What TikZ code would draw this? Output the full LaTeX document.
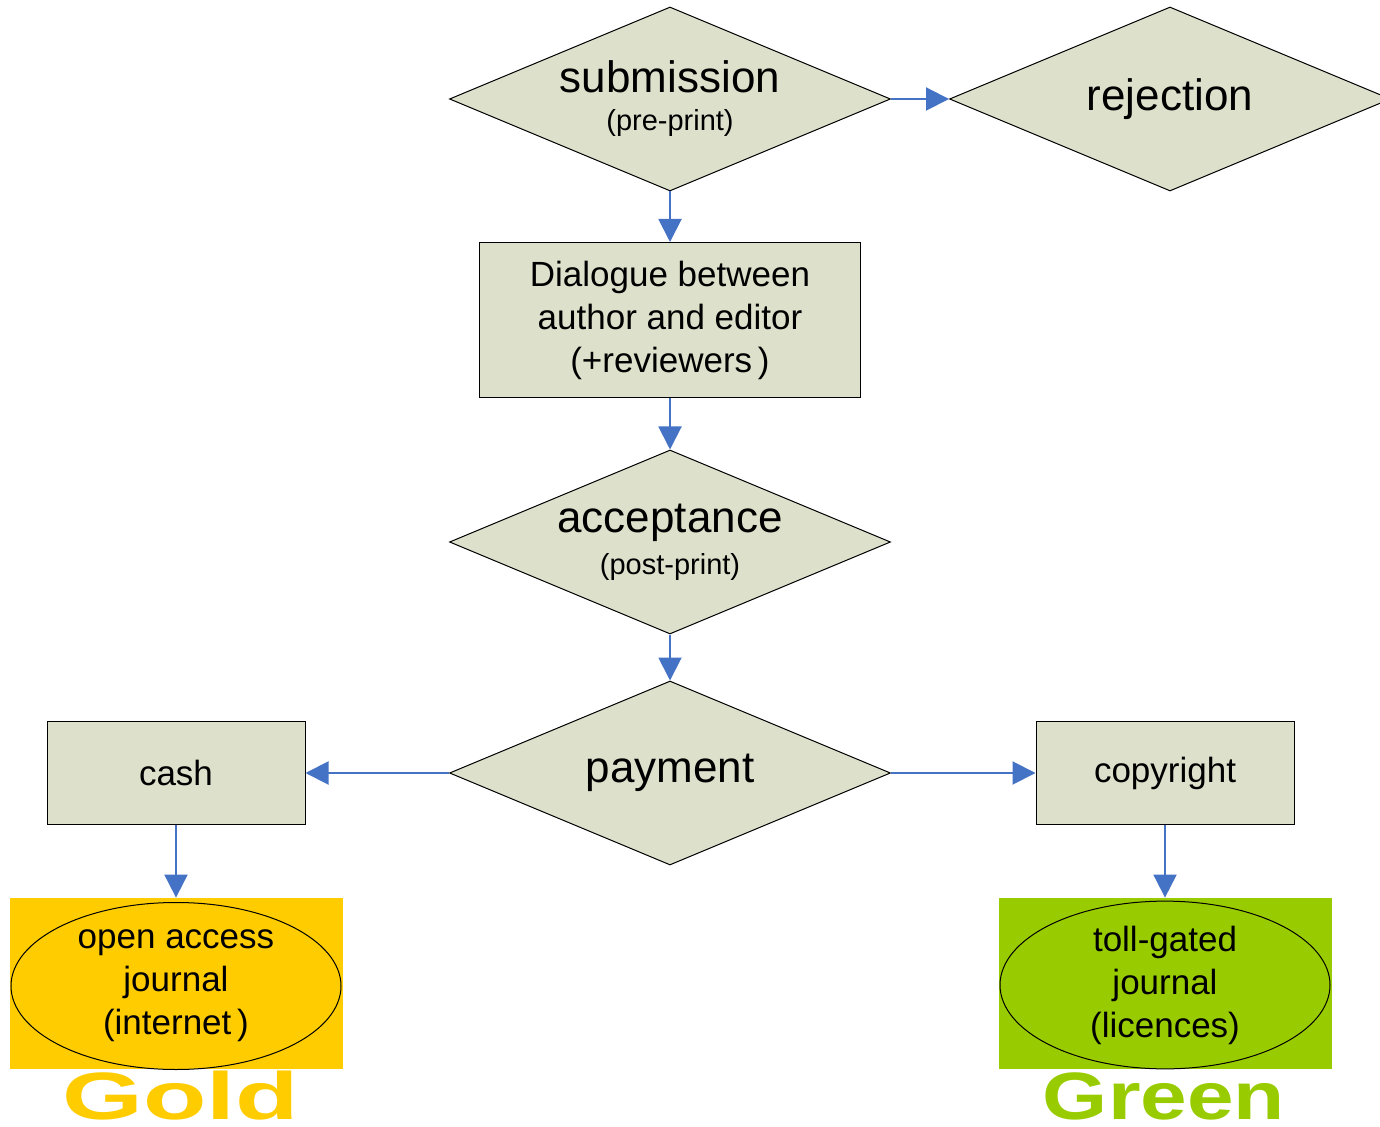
\documentclass[tikz,border=0pt]{standalone}
\usepackage{fontspec}
\setmainfont{Liberation Sans}
\usetikzlibrary{shapes.geometric,arrows.meta,positioning}
\definecolor{sage}{RGB}{221,225,203}
\definecolor{flowblue}{RGB}{68,114,196}
\definecolor{goldfill}{RGB}{255,204,0}
\definecolor{greenfill}{RGB}{153,204,0}
\newcommand{\bigtxt}{\fontsize{22}{26}\selectfont}
\newcommand{\midtxt}{\fontsize{17.5}{21.5}\selectfont}
\newcommand{\smalltxt}{\fontsize{14.5}{18}\selectfont}
\tikzset{
	dmond/.style={diamond,draw=black,line width=0.5pt,fill=sage,aspect=2.4,
		minimum width=220.5pt,minimum height=92pt,inner sep=0pt,align=center},
	pbox/.style={rectangle,draw=black,line width=0.5pt,fill=sage,inner sep=0pt,align=center},
	flow/.style={-{Triangle[length=11.5pt,width=11.5pt]},flowblue,line width=1pt},
	journal/.style={ellipse,draw=black,line width=0.5pt,inner sep=0pt,
		minimum width=165pt,minimum height=83.5pt,align=center,font=\midtxt},
	wordart/.style={anchor=base,inner sep=0pt,font=\fontsize{33.5}{34}\bfseries\selectfont}
}
\begin{document}
\begin{tikzpicture}[x=0.5pt,y=-0.5pt]
	\useasboundingbox (0,0) rectangle (1380,1127);
	
	% decisions
	\node[dmond] (submission) at (670,99) {{\bigtxt submission}\\[7pt]{\smalltxt (pre-print)}};
	\node[dmond] (rejection) at (1170,99) {\bigtxt rejection};
	\node[pbox,minimum width=190.5pt,minimum height=77.5pt,font=\midtxt] (dialogue) at (670,320)
		{Dialogue between\\author and editor\\(+reviewers\,)};
	\node[dmond] (acceptance) at (670,542) {{\bigtxt acceptance}\\[5pt]{\smalltxt (post-print)}};
	\node[dmond] (payment) at (670,773) {\bigtxt payment};
	
	% payment routes
	\node[pbox,minimum width=129pt,minimum height=51.5pt,font=\midtxt] (cash) at (176,773) {cash};
	\node[pbox,minimum width=129pt,minimum height=51.5pt,font=\midtxt] (copyright) at (1165,773) {copyright};
	
	\node[fill=goldfill,minimum width=166.5pt,minimum height=85.5pt,inner sep=0pt] (goldbox) at (176,983.5) {};
	\node[journal] (openaccess) at (176,986) {open access\\journal\\(internet\,)};
	\node[fill=greenfill,minimum width=166.5pt,minimum height=85.5pt,inner sep=0pt] (greenbox) at (1165,983.5) {};
	\node[journal] (tollgated) at (1165,985) {toll-gated\\journal\\(licences)};
	
	\node[wordart,text=goldfill,xscale=1.55] (gold) at (181,1119) {Gold};
	\node[wordart,text=greenfill,xscale=1.25] (green) at (1164,1119) {Green};
	
	% arrows
	\draw[flow] (submission.east) -- (rejection.west);
	\draw[flow] (submission.south) -- (dialogue.north);
	\draw[flow] (dialogue.south) -- (acceptance.north);
	\draw[flow] (acceptance.south) -- (payment.north);
	\draw[flow] (payment.west) -- (cash.east);
	\draw[flow] (payment.east) -- (copyright.west);
	\draw[flow] (cash.south) -- (goldbox.north);
	\draw[flow] (copyright.south) -- (greenbox.north);
\end{tikzpicture}
\end{document}
